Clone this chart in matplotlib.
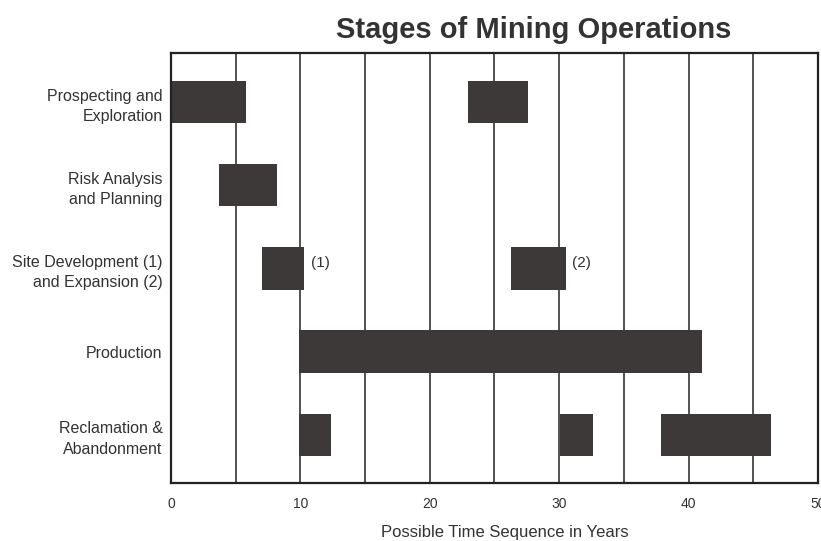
import numpy as np
import matplotlib
matplotlib.use("Agg")
import matplotlib.pyplot as plt

plt.rcParams["font.family"] = ["Liberation Sans", "DejaVu Sans"]

# stages (top to bottom) and their time spans in years: (start, duration)
stages = ["Prospecting and\nExploration", "Risk Analysis\nand Planning",
          "Site Development (1)\nand Expansion (2)", "Production",
          "Reclamation &\nAbandonment"]
spans = [
    [(0.0, 5.8), (22.95, 4.65)],
    [(3.7, 4.5)],
    [(7.0, 3.3), (26.3, 4.2)],
    [(9.9, 31.1)],
    [(9.9, 2.5), (30.1, 2.5), (37.9, 8.5)],
]
notes = ["(1)", "(2)"]          # labels beside the site-development bars
xticks = [0, 10, 20, 30, 40, 50]
grid_x = np.arange(5, 50, 5)

BAR = "#3d3939"
TXT = "#333333"

fig = plt.figure(figsize=(8.21, 5.41), dpi=100)
ax = fig.add_axes([0.2083, 0.1072, 0.7880, 0.7948])

for x in grid_x:
    ax.axvline(x, color="#222", lw=1.1, zorder=1)

for i, row in enumerate(spans):
    ax.broken_barh(row, (i - 0.255, 0.51), facecolors=BAR, zorder=2)

# (1) / (2) beside site development and expansion bars
for (s, w), t in zip(spans[2], notes):
    ax.text(s + w + 0.5, 2 - 0.06, t, ha="left", va="center", fontsize=11, color=TXT)

ax.set_xlim(0, 50)
ax.set_ylim(4.58, -0.59)
ax.set_yticks(range(len(stages)))
ax.set_yticklabels(stages, fontsize=11.5, linespacing=1.45, color=TXT)
ax.set_xticks(xticks)
ax.set_xticklabels([str(v) for v in xticks], fontsize=10, color=TXT)
ax.tick_params(axis="x", length=0, pad=10)
ax.tick_params(axis="y", length=0, pad=6)
for sp in ax.spines.values():
    sp.set_linewidth(1.6)
    sp.set_color("#222")

fig.text(0.65, 0.945, "Stages of Mining Operations", ha="center", va="center",
         fontsize=21, fontweight="bold", color=TXT)
fig.text(0.615, 0.015, "Possible Time Sequence in Years", ha="center", va="center",
         fontsize=12, color=TXT)

fig.savefig("out.png", dpi=100)
